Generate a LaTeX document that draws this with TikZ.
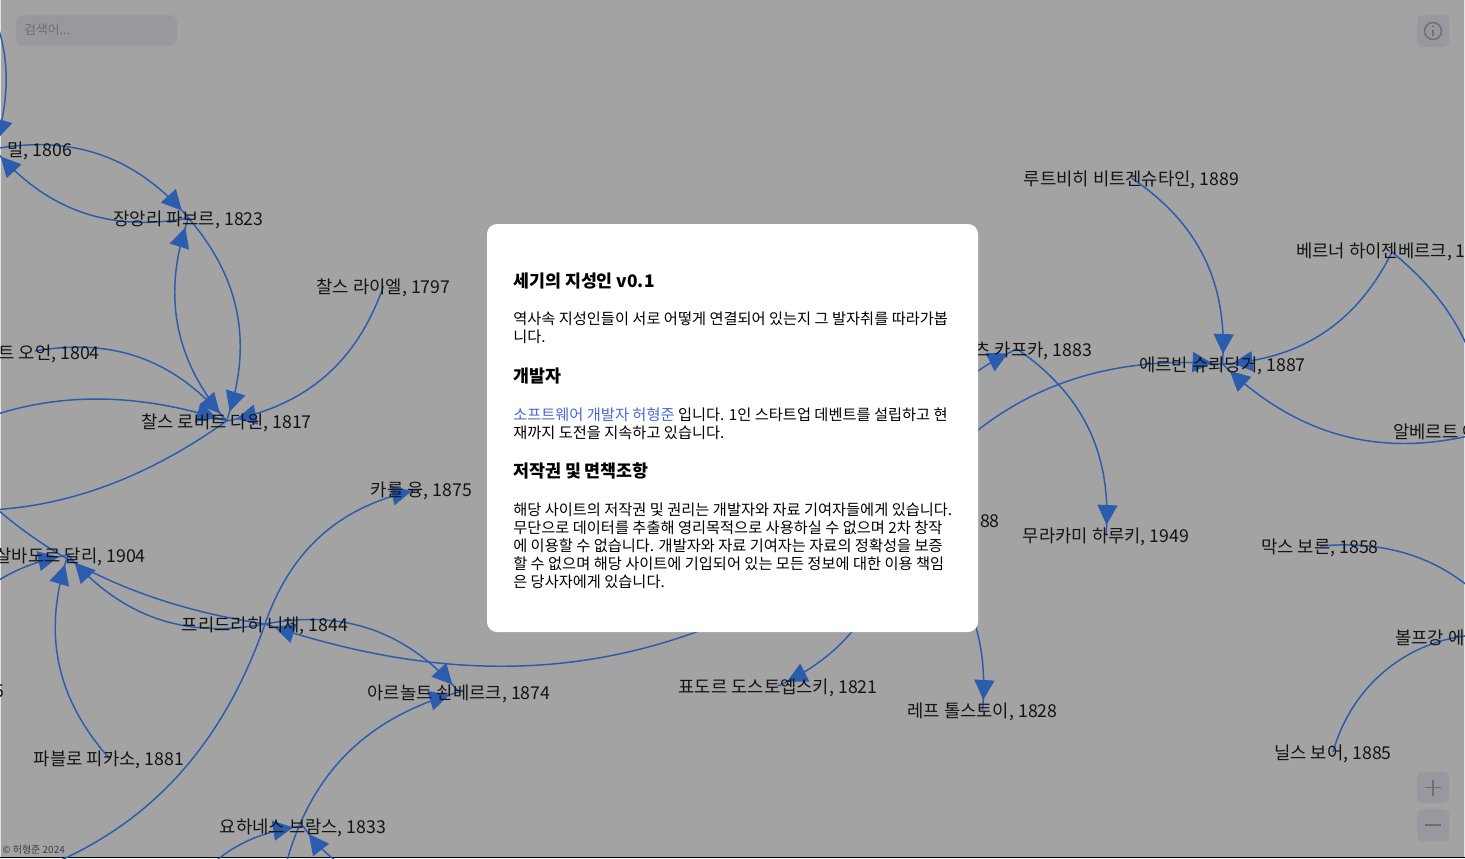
\documentclass[tikz,border=0pt]{standalone}
\usepackage{fontspec}
\setmainfont{Noto Sans CJK KR}
\usetikzlibrary{arrows.meta,decorations.markings}
\pgfdeclarelayer{bglayer}
\pgfdeclarelayer{edgelayer}
\pgfsetlayers{bglayer,edgelayer,main}
\definecolor{bgc}{HTML}{A3A3A3}
\definecolor{edgec}{HTML}{2B5CAE}
\definecolor{btnc}{HTML}{98989E}
\definecolor{iconc}{HTML}{6E6E75}
\definecolor{linkc}{HTML}{4A68D8}
\tikzset{
  link/.style={draw=edgec,line width=1.1pt,
    postaction={decorate,decoration={markings,mark=at position -7.5pt with {\arrow[edgec]{Triangle[length=15pt,width=15pt]}}}}},
  lbl/.style={inner sep=0pt,text=black!92,font=\fontsize{13.3}{15}\selectfont,text height=12.75pt,text depth=1.5pt},
  modalhead/.style={inner sep=0pt,anchor=west,text=black,font=\fontsize{13}{15}\selectfont\bfseries},
  modalbody/.style={inner sep=0pt,anchor=north west,align=left,text=black,font=\fontsize{11.45}{13.5}\selectfont},
  btn/.style={fill=btnc,draw=none,rounded corners=4.5pt},
  icon/.style={draw=iconc,line width=1.1pt}
}
\begin{document}
\begin{tikzpicture}[x=0.75pt,y=-0.75pt]
\useasboundingbox (0,0) rectangle (1465,858);
\begin{pgfonlayer}{bglayer}
\fill[bgc] (0,0) rectangle (1465,858);
\fill[white!70!bgc] (0,0) rectangle (1,857);
\fill[white!70!bgc] (1464,0) rectangle (1465,857);
\fill[black] (0,857) rectangle (1465,858);
\end{pgfonlayer}
% labels
\node[lbl,anchor=east] (millt) at (72.5,149) {밀, 1806};
\coordinate (mill) at (-6,149);
\node[lbl] (fabre) at (188.5,218) {장앙리 파브르, 1823};
\node[lbl] (lyell) at (383.5,286) {찰스 라이엘, 1797};
\node[lbl,anchor=east] (owent) at (100,352) {트 오언, 1804};
\coordinate (owen) at (35,351);
\node[lbl] (darwin) at (226.5,421) {찰스 로버트 다윈, 1817};
\node[lbl] (jung) at (421.5,489) {카를 융, 1875};
\node[lbl,anchor=east] (dali) at (146,555) {살바도르 달리, 1904};
\coordinate (dalic) at (68,555);
\node[lbl] (nietzsche) at (265,624) {프리드리히 니체, 1844};
\node[lbl,anchor=east] (five) at (5,690) {5};
\node[lbl] (schoenberg) at (459,692) {아르놀트 쇤베르크, 1874};
\node[lbl] (picasso) at (109,758) {파블로 피카소, 1881};
\node[lbl] (brahms) at (303,826) {요하네스 브람스, 1833};
\node[lbl] (dosto) at (778,686) {표도르 도스토옙스키, 1821};
\node[lbl] (tolstoy) at (982.5,710) {레프 톨스토이, 1828};
\node[lbl] (witt) at (1131.5,178) {루트비히 비트겐슈타인, 1889};
\node[lbl,anchor=west] (heist) at (1296,250) {베르너 하이젠베르크, 19};
\coordinate (heis) at (1392,252);
\node[lbl] (kafka) at (1017,349) {프란츠 카프카, 1883};
\node[lbl] (schroed) at (1222.5,364) {에르빈 슈뢰딩거, 1887};
\node[lbl,anchor=west] (einst) at (1393,431) {알베르트 아};
\coordinate (einstein) at (1488,431);
\node[lbl,anchor=east] (eighty) at (1000,520) {88};
\coordinate (n88) at (895,520);
\node[lbl] (murakami) at (1106,535) {무라카미 하루키, 1949};
\node[lbl] (born) at (1320,546) {막스 보른, 1858};
\node[lbl,anchor=west] (paulit) at (1395,637) {볼프강 에};
\coordinate (pauli) at (1515,637);
\node[lbl] (bohr) at (1333,752) {닐스 보어, 1885};
% free ends outside the page
\coordinate (offA) at (-35,-36);
\coordinate (offB) at (-150,502);
\coordinate (offC) at (-225,464);
\coordinate (offD) at (-147,297);
\coordinate (offE) at (-70,670);
\coordinate (offF) at (-49,894);
\coordinate (offG) at (285,868);
\coordinate (offH) at (170,925);
\coordinate (offI) at (420,882);
% connectors
\begin{pgfonlayer}{edgelayer}
\foreach \a/\b in {mill/fabre,fabre/mill,fabre/darwin,darwin/fabre,lyell/darwin,owen/darwin,offB/darwin,darwin/offC,nietzsche/offD,offE/dalic,picasso/dalic,nietzsche/dalic,nietzsche/jung,nietzsche/offF,nietzsche/schoenberg,offG/schoenberg,offH/brahms,offI/brahms,n88/dosto,n88/tolstoy,n88/kafka,n88/schroed,kafka/murakami,witt/schroed,heis/schroed,einstein/schroed,born/pauli}
  \draw[link] (\a.center) to[bend left=30] (\b.center);
\draw[link] (offA.center) to[bend left=27] (mill.center);
\draw[link] (n88.center) to[bend left=28] (nietzsche.center);
\draw[link] (heis.center) to[bend left=22] (einstein.center);
\draw[link] (bohr.center) to[bend left=42] (pauli.center);
\end{pgfonlayer}
% modal
\fill[white,rounded corners=7.5pt] (487,224) rectangle (978,632);
\node[modalhead] (title) at (513,281) {세기의 지성인 v0.1};
\node[modalbody] (p1) at (513,311.5) {역사속 지성인들이 서로 어떻게 연결되어 있는지 그 발자취를 따라가봅\\니다.};
\node[modalhead] (h2) at (513,376) {개발자};
\node[modalbody] (p2) at (513,407) {\textcolor{linkc}{소프트웨어 개발자 허형준} 입니다. 1인 스타트업 데벤트를 설립하고 현\\재까지 도전을 지속하고 있습니다.};
\node[modalhead] (h3) at (513,471) {저작권 및 면책조항};
\node[modalbody] (p3) at (513,502.5) {해당 사이트의 저작권 및 권리는 개발자와 자료 기여자들에게 있습니다.\\무단으로 데이터를 추출해 영리목적으로 사용하실 수 없으며 2차 창작\\에 이용할 수 없습니다. 개발자와 자료 기여자는 자료의 정확성을 보증\\할 수 없으며 해당 사이트에 기입되어 있는 모든 정보에 대한 이용 책임\\은 당사자에게 있습니다.};
% controls
\fill[btn,rounded corners=6pt] (16,15) rectangle (177,46);
\node[inner sep=0pt,anchor=west,text=iconc,font=\fontsize{9.6}{11}\selectfont] (search) at (24,30) {검색어...};
\fill[btn] (1417,15) rectangle (1449,47);
\draw[icon] (1433,31) circle (8.5);
\draw[icon] (1433,30) -- (1433,36);
\fill[iconc] (1433,26.5) circle (1.1);
\fill[btn] (1417,772) rectangle (1449,803);
\draw[icon] (1425,787.5) -- (1441,787.5) (1433,779.5) -- (1433,795.5);
\fill[btn] (1417,809) rectangle (1449,841);
\draw[icon] (1425,825) -- (1441,825);
\node[inner sep=0pt,anchor=west,text=black!75,font=\fontsize{7.5}{8}\selectfont] (copy) at (2,850) {© 허형준 2024};
\end{tikzpicture}
\end{document}
